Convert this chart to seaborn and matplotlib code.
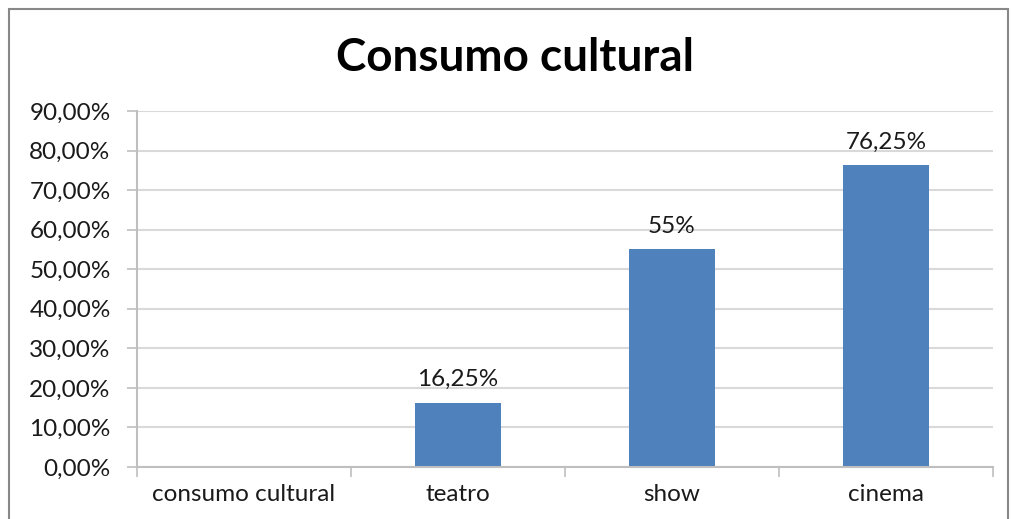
import matplotlib
matplotlib.use("Agg")
import matplotlib.pyplot as plt
import seaborn as sns
import pandas as pd
import numpy as np
from matplotlib.patches import Rectangle
from matplotlib.ticker import FixedLocator, FuncFormatter

categories = ["consumo cultural", "teatro", "show", "cinema"]
values = [0.0, 16.25, 55.0, 76.25]
bar_labels = ["", "16,25%", "55%", "76,25%"]
y_ticks = [0, 10, 20, 30, 40, 50, 60, 70, 80, 90]
title = "Consumo cultural"

sns.set_theme(style="white")
plt.rcParams['font.family'] = ['Lato', 'DejaVu Sans']

fig = plt.figure(figsize=(10.12, 5.19), dpi=100)
ax = fig.add_axes([137/1012, 1 - 467/519, (993-137)/1012, (467-111)/519])

df = pd.DataFrame({"cat": categories, "val": values})
sns.barplot(data=df, x="cat", y="val", ax=ax, color="#4F81BD", width=0.4,
            linewidth=0, saturation=1)

ax.set_xlim(-0.5, 3.5)
ax.set_ylim(0, 90)
ax.yaxis.set_major_locator(FixedLocator(y_ticks))
ax.yaxis.set_major_formatter(FuncFormatter(lambda v, p: f"{v:.2f}".replace(".", ",") + "%"))
ax.yaxis.grid(True, color="#D9D9D9", linewidth=1.5)
ax.set_axisbelow(True)

# x ticks: boundaries as major ticks, labels at centers as minor
ax.set_xticks(np.arange(-0.5, 4.0, 1.0))
ax.set_xticklabels([])
ax.set_xticks(range(len(categories)), minor=True)
ax.set_xticklabels(categories, minor=True)
ax.tick_params(axis="x", which="major", direction="out", length=7, width=1.2, color="#BFBFBF", bottom=True)
ax.tick_params(axis="x", which="minor", length=0, pad=12, labelsize=17.5, labelcolor="#1a1a1a")
ax.tick_params(axis="y", direction="out", length=7, width=1.2, color="#BFBFBF", left=True,
               labelsize=17.5, labelcolor="#1a1a1a", pad=12)

for s in ["top", "right"]:
    ax.spines[s].set_visible(False)
for s in ["left", "bottom"]:
    ax.spines[s].set_color("#BFBFBF")
    ax.spines[s].set_linewidth(1.5)

ax.set_xlabel("")
ax.set_ylabel("")

for i, (v, lab) in enumerate(zip(values, bar_labels)):
    if lab:
        ax.annotate(lab, (i, v), xytext=(0, 9), textcoords="offset points",
                    ha="center", va="bottom", fontsize=17.5, color="#1a1a1a")

fig.text(515/1012, 1 - 58/519, title, ha="center", va="center",
         fontsize=33, fontweight="bold", color="black")

fig.patches.append(Rectangle((9/1012, -0.02), (1008-9)/1012, 1 - 9/519 + 0.02,
                             transform=fig.transFigure, fill=False,
                             edgecolor="#888888", linewidth=1.5))

fig.savefig("out.png", dpi=100)
